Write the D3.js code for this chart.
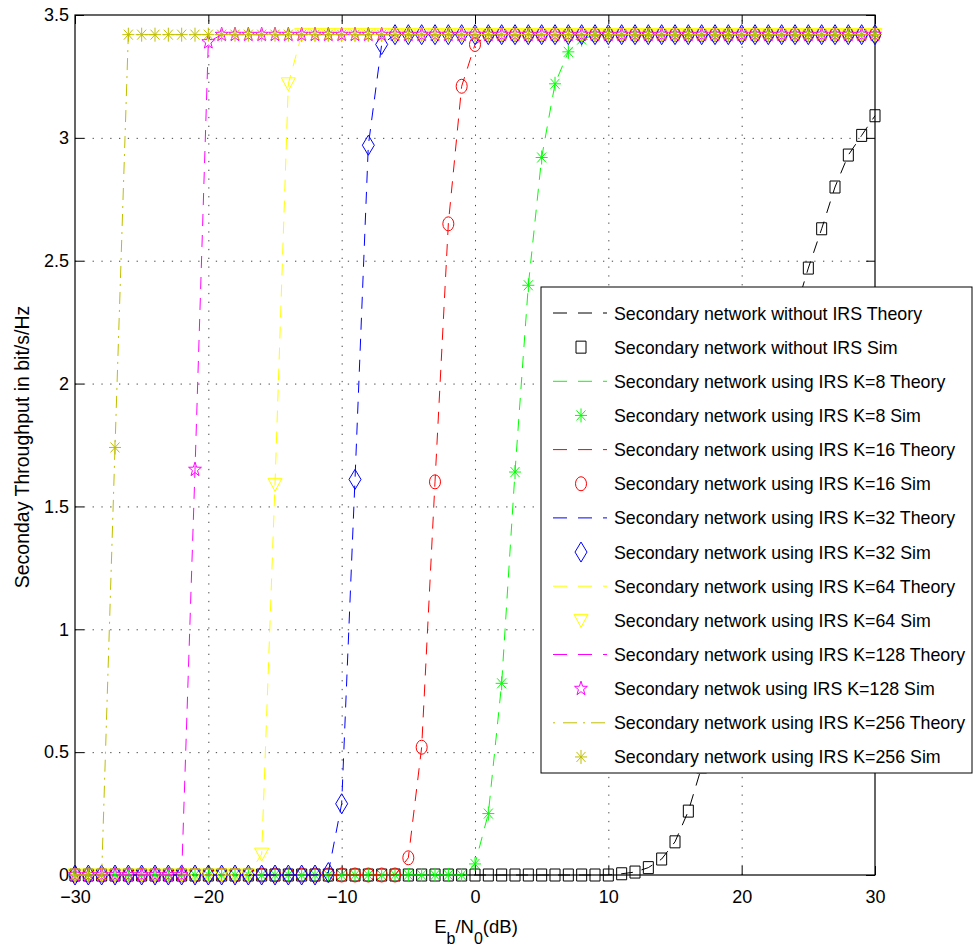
<!DOCTYPE html>
<html>
<head>
<meta charset="utf-8">
<script src="https://cdn.jsdelivr.net/npm/d3@7"></script>
<style>
  body { margin: 0; background: #fff; }
  text { font-family: "Liberation Sans", Arial, Helvetica, sans-serif; fill: #000; }
</style>
</head>
<body>
<div id="chart"></div>
<script>
// Eb/N0 in dB
var snr = [-30,-29,-28,-27,-26,-25,-24,-23,-22,-21,
           -20,-19,-18,-17,-16,-15,-14,-13,-12,-11,
           -10,-9,-8,-7,-6,-5,-4,-3,-2,-1,
           0,1,2,3,4,5,6,7,8,9,
           10,11,12,13,14,15,16,17,18,19,
           20,21,22,23,24,25,26,27,28,29,
           30];

var noIrs = [0,0,0,0,0,0,0,0,0,0,
             0,0,0,0,0,0,0,0,0,0,
             0,0,0,0,0,0,0,0,0,0,
             0,0,0,0,0,0,0,0,0,0,
             0,0.005,0.012,0.03,0.065,0.135,0.26,0.44,0.66,0.92,
             1.20,1.50,1.80,2.07,2.29,2.47,2.63,2.80,2.93,3.01,
             3.09];

var k8 = [0,0,0,0,0,0,0,0,0,0,
          0,0,0,0,0,0,0,0,0,0,
          0,0,0,0,0,0,0,0,0,0,
          0.045,0.25,0.78,1.64,2.40,2.92,3.22,3.35,3.40,3.42,
          3.42,3.42,3.42,3.42,3.42,3.42,3.42,3.42,3.42,3.42,
          3.42,3.42,3.42,3.42,3.42,3.42,3.42,3.42,3.42,3.42,
          3.42];

var k16 = [0,0,0,0,0,0,0,0,0,0,
           0,0,0,0,0,0,0,0,0,0,
           0,0,0,0,0,0.07,0.52,1.60,2.65,3.21,
           3.38,3.42,3.42,3.42,3.42,3.42,3.42,3.42,3.42,3.42,
           3.42,3.42,3.42,3.42,3.42,3.42,3.42,3.42,3.42,3.42,
           3.42,3.42,3.42,3.42,3.42,3.42,3.42,3.42,3.42,3.42,
           3.42];

var k32 = [0,0,0,0,0,0,0,0,0,0,
           0,0,0,0,0,0,0,0,0,0.01,
           0.29,1.61,2.97,3.38,3.42,3.42,3.42,3.42,3.42,3.42,
           3.42,3.42,3.42,3.42,3.42,3.42,3.42,3.42,3.42,3.42,
           3.42,3.42,3.42,3.42,3.42,3.42,3.42,3.42,3.42,3.42,
           3.42,3.42,3.42,3.42,3.42,3.42,3.42,3.42,3.42,3.42,
           3.42];

var k64 = [0,0,0,0,0,0,0,0,0,0,
           0,0,0,0,0.085,1.59,3.22,3.42,3.42,3.42,
           3.42,3.42,3.42,3.42,3.42,3.42,3.42,3.42,3.42,3.42,
           3.42,3.42,3.42,3.42,3.42,3.42,3.42,3.42,3.42,3.42,
           3.42,3.42,3.42,3.42,3.42,3.42,3.42,3.42,3.42,3.42,
           3.42,3.42,3.42,3.42,3.42,3.42,3.42,3.42,3.42,3.42,
           3.42];

var k128 = [0,0,0,0,0,0,0,0,0,1.65,
            3.39,3.42,3.42,3.42,3.42,3.42,3.42,3.42,3.42,3.42,
            3.42,3.42,3.42,3.42,3.42,3.42,3.42,3.42,3.42,3.42,
            3.42,3.42,3.42,3.42,3.42,3.42,3.42,3.42,3.42,3.42,
            3.42,3.42,3.42,3.42,3.42,3.42,3.42,3.42,3.42,3.42,
            3.42,3.42,3.42,3.42,3.42,3.42,3.42,3.42,3.42,3.42,
            3.42];

var k256 = [0,0,0,1.74,3.42,3.42,3.42,3.42,3.42,3.42,
            3.42,3.42,3.42,3.42,3.42,3.42,3.42,3.42,3.42,3.42,
            3.42,3.42,3.42,3.42,3.42,3.42,3.42,3.42,3.42,3.42,
            3.42,3.42,3.42,3.42,3.42,3.42,3.42,3.42,3.42,3.42,
            3.42,3.42,3.42,3.42,3.42,3.42,3.42,3.42,3.42,3.42,
            3.42,3.42,3.42,3.42,3.42,3.42,3.42,3.42,3.42,3.42,
            3.42];

var xTicks = [-30, -20, -10, 0, 10, 20, 30];
var yTicks = [0, 0.5, 1, 1.5, 2, 2.5, 3, 3.5];

var legendLabels = [
  "Secondary network without IRS Theory",
  "Secondary network without IRS Sim",
  "Secondary network using IRS K=8 Theory",
  "Secondary network using IRS K=8 Sim",
  "Secondary network using IRS K=16 Theory",
  "Secondary network using IRS K=16 Sim",
  "Secondary network using IRS K=32 Theory",
  "Secondary network using IRS K=32 Sim",
  "Secondary network using IRS K=64 Theory",
  "Secondary network using IRS K=64 Sim",
  "Secondary network using IRS K=128 Theory",
  "Secondary netwok using IRS K=128 Sim",
  "Secondary network using IRS K=256 Theory",
  "Secondary network using IRS K=256 Sim"
];

// series styling: colour, line dash, legend dash, marker
var series = [
  { values: noIrs, color: "#000000", dash: "12,9",     legendDash: "14,11",         marker: "square" },
  { values: k8,    color: "#00ff00", dash: "12,9",     legendDash: "14,11",         marker: "asterisk" },
  { values: k16,   color: "#ff0000", dash: "12,9",     legendDash: "14,11",         marker: "circle" },
  { values: k32,   color: "#0000ff", dash: "12,9",     legendDash: "14,11",         marker: "diamond" },
  { values: k64,   color: "#ffff00", dash: "12,9",     legendDash: "14,11",         marker: "triangle" },
  { values: k128,  color: "#ff00ff", dash: "12,9",     legendDash: "14,11",         marker: "star" },
  { values: k256,  color: "#bfbf00", dash: "12,6,2,6", legendDash: "2,8,14,6,2,6,14", marker: "asterisk" }
];

var svgWidth = 976;
var svgHeight = 948;
var margin = { top: 15, right: 101, bottom: 73, left: 75 };
var width = svgWidth - margin.left - margin.right;
var height = svgHeight - margin.top - margin.bottom;

var svg = d3.select("#chart")
  .append("svg")
  .attr("width", svgWidth)
  .attr("height", svgHeight);

var chartGroup = svg.append("g")
  .attr("transform", `translate(${margin.left}, ${margin.top})`);

var xScale = d3.scaleLinear().domain([-30, 30]).range([0, width]);
var yScale = d3.scaleLinear().domain([0, 3.5]).range([height, 0]);

// dotted grid
var gridStyle = function(g) {
  g.select(".domain").remove();
  g.selectAll("text").remove();
  g.selectAll("line")
    .attr("stroke", "#444")
    .attr("stroke-width", 1)
    .attr("stroke-dasharray", "1.3,7.5");
};
chartGroup.append("g")
  .attr("transform", `translate(0, ${height})`)
  .call(d3.axisBottom(xScale).tickValues(xTicks.slice(1, -1)).tickSize(-height))
  .call(gridStyle);
chartGroup.append("g")
  .call(d3.axisLeft(yScale).tickValues(yTicks.slice(1, -1)).tickSize(-width))
  .call(gridStyle);

// axes with inward ticks
var fmt = d3.format("");
var axisStyle = function(g) {
  g.select(".domain").remove();
  g.selectAll("line").attr("stroke", "#000").attr("stroke-width", 1);
  g.selectAll("text")
    .style("font-family", "'Liberation Sans', Arial, sans-serif")
    .style("font-size", "18px")
    .attr("fill", "#000");
};
chartGroup.append("g")
  .attr("transform", `translate(0, ${height})`)
  .call(d3.axisBottom(xScale).tickValues(xTicks).tickFormat(fmt).tickSizeInner(-9).tickSizeOuter(0).tickPadding(15))
  .call(axisStyle);
chartGroup.append("g")
  .call(d3.axisTop(xScale).tickValues(xTicks).tickFormat("").tickSizeInner(-9).tickSizeOuter(0))
  .call(axisStyle);
chartGroup.append("g")
  .call(d3.axisLeft(yScale).tickValues(yTicks).tickFormat(fmt).tickSizeInner(-9).tickSizeOuter(0).tickPadding(6))
  .call(axisStyle);
chartGroup.append("g")
  .attr("transform", `translate(${width}, 0)`)
  .call(d3.axisRight(yScale).tickValues(yTicks).tickFormat("").tickSizeInner(-9).tickSizeOuter(0))
  .call(axisStyle);

chartGroup.append("rect")
  .attr("x", 0).attr("y", 0)
  .attr("width", width).attr("height", height)
  .attr("fill", "none")
  .attr("stroke", "#000")
  .attr("stroke-width", 1.2);

// marker path generators (local coords)
function markerPath(type) {
  switch (type) {
    case "square":   return "M-5,-6H5V6H-5Z";
    case "circle":   return "M-5.5,0A5.5,7 0 1,0 5.5,0A5.5,7 0 1,0 -5.5,0Z";
    case "diamond":  return "M0,-10L6,0L0,10L-6,0Z";
    case "triangle": return "M-7,-6H7L0,7Z";
    case "asterisk": return "M0,-7V7M-6,0H6M-4.5,-5L4.5,5M-4.5,5L4.5,-5";
    case "star": {
      var pts = [];
      for (var i = 0; i < 10; i++) {
        var a = -Math.PI / 2 + i * Math.PI / 5;
        var r = i % 2 === 0 ? 7.5 : 3;
        pts.push([r * Math.cos(a) * 0.9, r * Math.sin(a)]);
      }
      return "M" + pts.map(p => p[0].toFixed(2) + "," + p[1].toFixed(2)).join("L") + "Z";
    }
  }
}

var line = d3.line()
  .x((d, i) => xScale(snr[i]))
  .y(d => yScale(d));

series.forEach(function(s) {
  chartGroup.append("path")
    .datum(s.values)
    .attr("d", line)
    .attr("fill", "none")
    .attr("stroke", s.color)
    .attr("stroke-width", 1)
    .attr("stroke-dasharray", s.dash);

  chartGroup.selectAll(null)
    .data(s.values)
    .enter()
    .append("path")
    .attr("transform", (d, i) => `translate(${xScale(snr[i])}, ${yScale(d)})`)
    .attr("d", markerPath(s.marker))
    .attr("fill", "none")
    .attr("stroke", s.color)
    .attr("stroke-width", 1);
});

// axis labels
svg.append("text")
  .attr("transform", `translate(29, ${margin.top + height / 2 + 2}) rotate(-90)`)
  .attr("text-anchor", "middle")
  .style("font-size", "19.5px")
  .text("Seconday Throughput in bit/s/Hz");

var xLabel = svg.append("text")
  .attr("x", margin.left + width / 2 + 1)
  .attr("y", 933)
  .attr("text-anchor", "middle")
  .style("font-size", "18.5px");
xLabel.append("tspan").text("E");
xLabel.append("tspan").attr("dy", 11).style("font-size", "16px").text("b");
xLabel.append("tspan").attr("dy", -11).text("/N");
xLabel.append("tspan").attr("dy", 11).style("font-size", "16px").text("0");
xLabel.append("tspan").attr("dy", -11).text("(dB)");

// legend
var legend = svg.append("g").attr("transform", "translate(541, 287)");
legend.append("rect")
  .attr("width", 431).attr("height", 486)
  .attr("fill", "#fff")
  .attr("stroke", "#000")
  .attr("stroke-width", 1);

var rowH = 34.15;
legendLabels.forEach(function(label, i) {
  var s = series[Math.floor(i / 2)];
  var cy = 26 + i * rowH;
  var row = legend.append("g").attr("transform", `translate(0, ${cy})`);
  if (i % 2 === 0) {
    row.append("line")
      .attr("x1", 12).attr("x2", 66)
      .attr("y1", 0).attr("y2", 0)
      .attr("stroke", s.color)
      .attr("stroke-width", 1)
      .attr("stroke-dasharray", s.legendDash);
  } else {
    row.append("path")
      .attr("transform", "translate(40, 0)")
      .attr("d", markerPath(s.marker))
      .attr("fill", "none")
      .attr("stroke", s.color)
      .attr("stroke-width", 1);
  }
  row.append("text")
    .attr("x", 73)
    .attr("y", 6.5)
    .style("font-size", "17.8px")
    .text(label);
});
</script>
</body>
</html>
